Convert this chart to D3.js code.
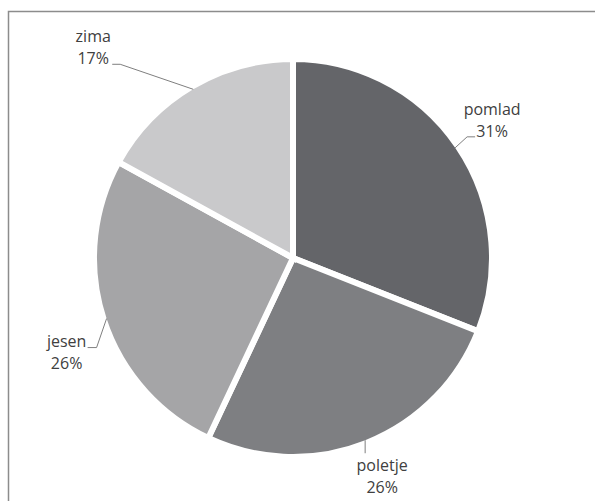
<!DOCTYPE html>
<html>
<head>
<meta charset="utf-8">
<script src="https://cdn.jsdelivr.net/npm/d3@7"></script>
<style>
  body { margin: 0; background: #fff; }
  .lbl { font-family: "Open Sans", sans-serif; font-size: 16px; fill: #404040; }
</style>
</head>
<body>
<div id="chart"></div>
<script>
// season shares (%)
var seasons = ['pomlad', 'poletje', 'jesen', 'zima'];
var shares = [31, 26, 26, 17];

var colors = d3.scaleOrdinal().domain(seasons)
  .range(['#646569', '#7e7f82', '#a5a5a7', '#c9c9cb']);

// label layout relative to the point on the rim (elbow points + label centre)
var labelLayout = {
  pomlad:  { elbow: [[12, -11], [20, -11]], dx: 37, dy: -33 },
  poletje: { elbow: [[0, 13]], dx: 17, dy: 31 },
  jesen:   { elbow: [[-10, 29], [-19, 29]], dx: -40, dy: 28 },
  zima:    { elbow: [[-73, -25], [-81, -25]], dx: -100, dy: -47 }
};

var width = 595, height = 501;
var cx = 293, cy = 258, radius = 199;

var svg = d3.select('#chart').append('svg')
  .attr('width', width).attr('height', height);

// chart area frame (only top and left edges are visible)
svg.append('path')
  .attr('d', 'M8.5,' + height + 'V11.5H' + width)
  .attr('fill', 'none').attr('stroke', '#8c8c8c').attr('stroke-width', 1.5);

var data = d3.pie().sort(null).value(function(d) { return d.value; })(
  seasons.map(function(s, i) { return { name: s, value: shares[i] }; }));

var segments = d3.arc().innerRadius(0).outerRadius(radius);
var rim = d3.arc().innerRadius(radius - 3).outerRadius(radius - 3);

var g = svg.append('g').attr('transform', 'translate(' + cx + ',' + cy + ')');

g.selectAll('path.slice').data(data).enter()
  .append('path').classed('slice', true)
  .attr('d', segments)
  .attr('fill', function(d) { return colors(d.data.name); })
  .attr('stroke', '#fff').attr('stroke-width', 6).attr('stroke-linejoin', 'miter');

var labels = g.selectAll('g.label').data(data).enter()
  .append('g').classed('label', true);

labels.each(function(d) {
  var p = rim.centroid(d);
  var lay = labelLayout[d.data.name];
  var pts = [p].concat(lay.elbow.map(function(e) { return [p[0] + e[0], p[1] + e[1]]; }));
  var sel = d3.select(this);
  sel.append('path')
    .attr('d', d3.line()(pts))
    .attr('fill', 'none').attr('stroke', '#7f7f7f').attr('stroke-width', 1);
  var t = sel.append('text').classed('lbl', true)
    .attr('text-anchor', 'middle')
    .attr('x', p[0] + lay.dx).attr('y', p[1] + lay.dy);
  t.append('tspan').attr('x', p[0] + lay.dx).text(d.data.name);
  t.append('tspan').attr('x', p[0] + lay.dx).attr('dy', 22).text(d.data.value + '%');
});
</script>
</body>
</html>
